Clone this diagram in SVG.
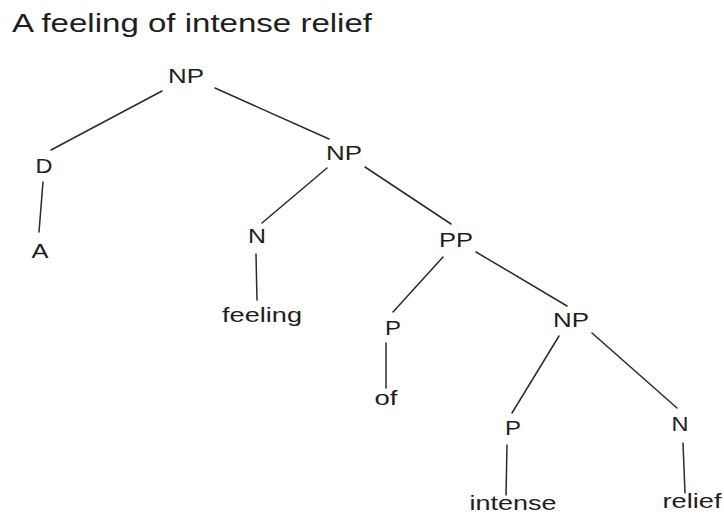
<svg xmlns="http://www.w3.org/2000/svg" width="724" height="516" viewBox="0 0 724 516">
<style>
text{font-family:"Liberation Sans",Arial,sans-serif;fill:#1e1e1e;}
.lab{font-size:20px;text-anchor:middle;}
.title{font-size:25px;}
.edges line{stroke:#2a2a2a;stroke-width:1.5;stroke-linecap:round;}
</style>
<rect width="724" height="516" fill="#ffffff"/>
<text class="title" x="12" y="32" textLength="360" lengthAdjust="spacingAndGlyphs">A feeling of intense relief</text>
<g class="edges" id="connectors">
<line x1="162" y1="91" x2="51" y2="150"/>
<line x1="215" y1="88" x2="329" y2="139"/>
<line x1="43" y1="182" x2="39" y2="232"/>
<line x1="327" y1="168" x2="262" y2="223"/>
<line x1="365" y1="167" x2="451" y2="224"/>
<line x1="256" y1="254" x2="257" y2="300"/>
<line x1="443" y1="257" x2="393" y2="312"/>
<line x1="476" y1="252" x2="567" y2="306"/>
<line x1="386" y1="343" x2="386" y2="388"/>
<line x1="559" y1="336" x2="512" y2="413"/>
<line x1="592" y1="333" x2="677" y2="408"/>
<line x1="507" y1="445" x2="506" y2="495"/>
<line x1="683" y1="443" x2="685" y2="493"/>
</g>
<g id="np1"><text class="lab" x="186" y="83" textLength="36" lengthAdjust="spacingAndGlyphs">NP</text></g>
<g id="d"><text class="lab" x="44" y="173" textLength="17" lengthAdjust="spacingAndGlyphs">D</text></g>
<g id="a"><text class="lab" x="40" y="258" textLength="17" lengthAdjust="spacingAndGlyphs">A</text></g>
<g id="np2"><text class="lab" x="344" y="160" textLength="36" lengthAdjust="spacingAndGlyphs">NP</text></g>
<g id="n1"><text class="lab" x="257" y="243" textLength="18" lengthAdjust="spacingAndGlyphs">N</text></g>
<g id="feeling"><text class="lab" x="262" y="322" textLength="80" lengthAdjust="spacingAndGlyphs">feeling</text></g>
<g id="pp"><text class="lab" x="456" y="247" textLength="34" lengthAdjust="spacingAndGlyphs">PP</text></g>
<g id="p1"><text class="lab" x="393" y="335" textLength="16" lengthAdjust="spacingAndGlyphs">P</text></g>
<g id="of"><text class="lab" x="386" y="405" textLength="23" lengthAdjust="spacingAndGlyphs">of</text></g>
<g id="np3"><text class="lab" x="571" y="327" textLength="36" lengthAdjust="spacingAndGlyphs">NP</text></g>
<g id="p2"><text class="lab" x="513" y="435" textLength="16" lengthAdjust="spacingAndGlyphs">P</text></g>
<g id="intense"><text class="lab" x="513" y="510" textLength="87" lengthAdjust="spacingAndGlyphs">intense</text></g>
<g id="n2"><text class="lab" x="680" y="431" textLength="17" lengthAdjust="spacingAndGlyphs">N</text></g>
<g id="relief"><text class="lab" x="692" y="508" textLength="59" lengthAdjust="spacingAndGlyphs">relief</text></g>
</svg>
